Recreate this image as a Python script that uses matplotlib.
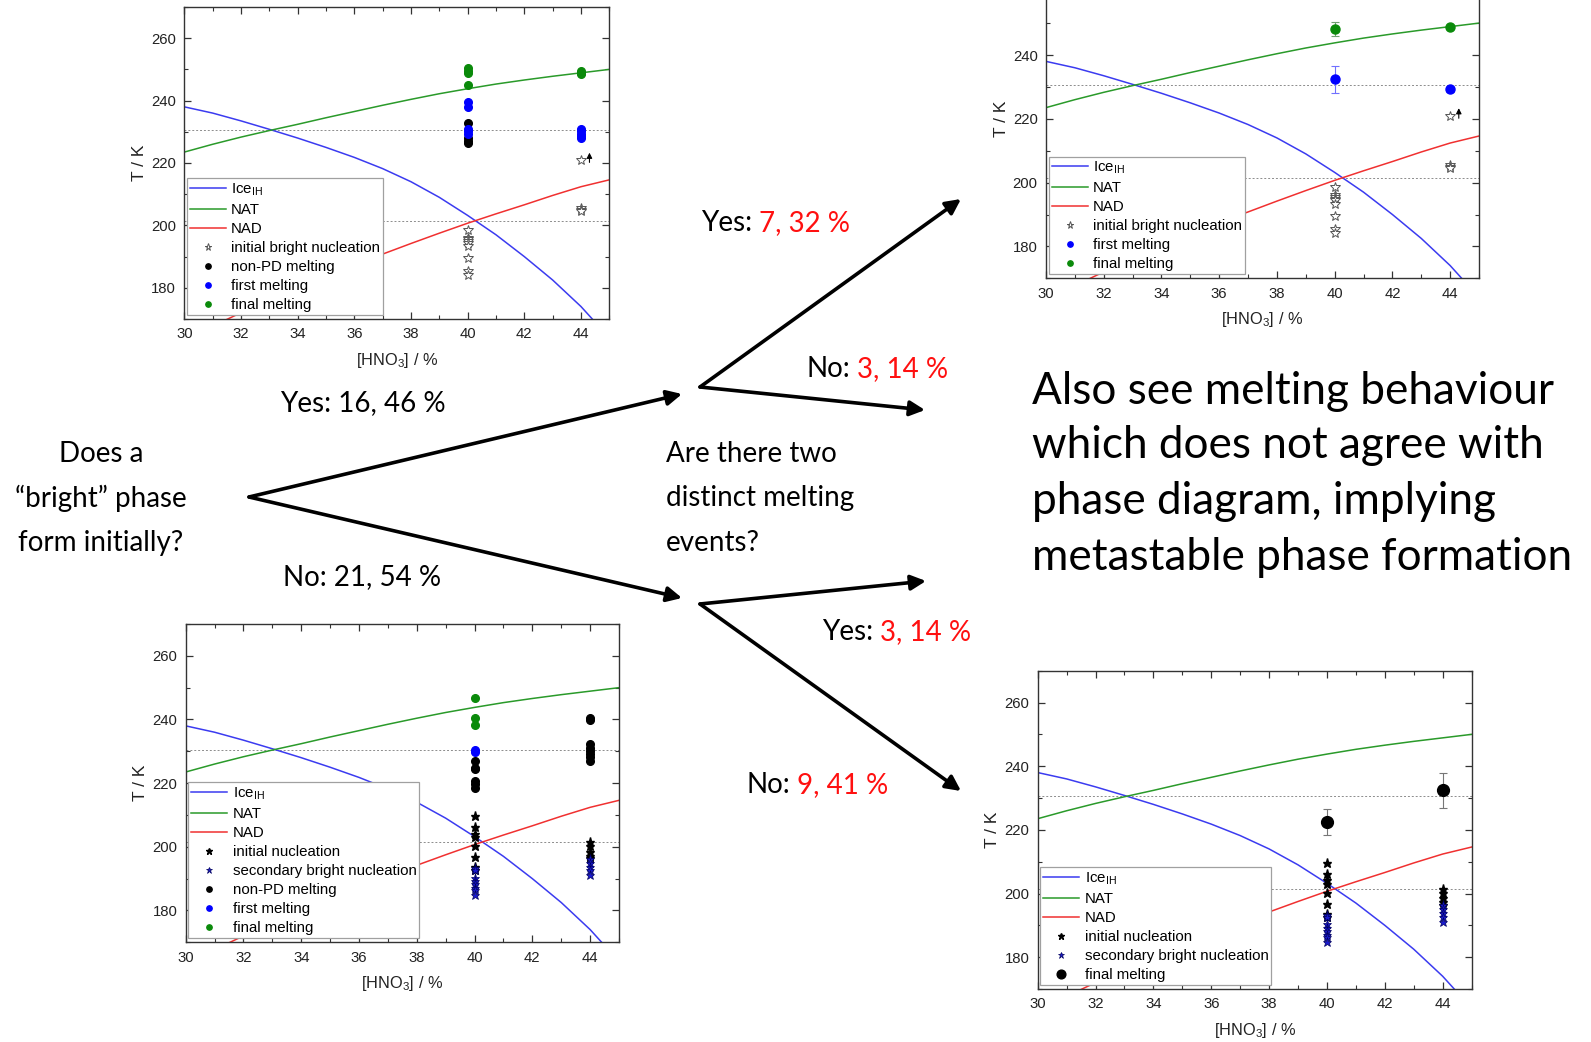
import matplotlib
matplotlib.use("Agg")
import matplotlib.pyplot as plt
from matplotlib.lines import Line2D
from matplotlib.patches import FancyArrowPatch
from matplotlib.ticker import MultipleLocator, FuncFormatter

plt.rcParams['font.family'] = ['Liberation Sans', 'DejaVu Sans']
plt.rcParams['mathtext.fontset'] = 'custom'
plt.rcParams['mathtext.rm'] = 'Liberation Sans'
plt.rcParams['mathtext.it'] = 'Liberation Sans:italic'

# phase boundaries, T in K against HNO3 wt %
ice_x = [30, 31, 32, 33, 34, 35, 36, 37, 38, 39, 40, 41, 42, 43, 44, 44.4, 44.7]
ice_T = [238.0, 236.0, 233.5, 230.8, 228.0, 225.0, 221.8, 218.2, 214.0, 209.0,
         203.2, 197.0, 190.0, 182.5, 174.0, 170.0, 166.5]
nat_x = [30, 31, 32, 33, 34, 35, 36, 37, 38, 39, 40, 41, 42, 43, 44, 45]
nat_T = [223.5, 226.0, 228.3, 230.4, 232.4, 234.5, 236.5, 238.5, 240.4, 242.2,
         243.8, 245.3, 246.6, 247.8, 248.9, 250.0]
nad_x = [31.3, 32, 33, 34, 35, 36, 37, 38, 39, 40, 41, 42, 43, 44, 45]
nad_T = [169.0, 172.0, 176.3, 180.3, 184.0, 187.5, 190.8, 194.2, 197.5, 200.7,
         203.7, 206.6, 209.6, 212.4, 214.6]
eutectic_T = [230.5, 201.5]

# bright phase forms first (top panels)
bright_nuc_x = [40] * 9 + [44] * 4
bright_nuc_T = [198.5, 196.0, 195.5, 195.0, 194.5, 193.3, 189.5, 185.5, 184.2,
                221.0, 205.5, 205.0, 204.5]
limit_arrow_x = 44.3
limit_arrow_T = (219.3, 224.2)

tl_nonpd_x = [40, 40, 40, 40]
tl_nonpd_T = [232.9, 227.9, 227.2, 226.5]
tl_first_x = [40] * 5 + [44] * 5
tl_first_T = [239.5, 238.0, 231.0, 230.2, 229.4, 231.0, 230.2, 229.4, 228.6, 228.0]
tl_final_x = [40] * 4 + [44] * 3
tl_final_T = [250.3, 249.6, 248.8, 245.0, 249.5, 249.0, 248.5]

tr_first_x = [40, 44]
tr_first_T = [232.4, 229.2]
tr_first_err = [4.3, 0.9]
tr_final_x = [40, 44]
tr_final_T = [248.1, 248.9]
tr_final_err = [2.1, 0.5]

# no bright phase first (bottom panels)
init_nuc_x = [40] * 8 + [44] * 5
init_nuc_T = [209.6, 206.1, 204.1, 203.0, 200.3, 196.8, 193.5, 192.6,
              201.5, 200.3, 198.5, 197.2, 196.5]
sec_nuc_x = [40] * 8 + [44] * 5
sec_nuc_T = [193.3, 192.6, 190.3, 189.2, 188.2, 187.1, 186.3, 184.9,
             196.3, 195.0, 193.8, 192.6, 191.0]

bl_nonpd_x = [40] * 6 + [44] * 8
bl_nonpd_T = [227.1, 224.9, 224.3, 220.8, 219.8, 218.6,
              240.5, 239.7, 232.2, 231.2, 230.2, 229.2, 228.2, 227.0]
bl_first_x = [40, 40]
bl_first_T = [230.4, 229.8]
bl_final_x = [40, 40, 40]
bl_final_T = [246.7, 240.5, 238.4]

br_final_x = [40, 44]
br_final_T = [222.5, 232.4]
br_final_err = [4.0, 5.4]

c_ice, c_nat, c_nad = '#3b3bf0', '#2a9a2a', '#f03030'
c_blue, c_green = '#0000ff', '#0a8a0a'

W, H = 1591, 1042
fig = plt.figure(figsize=(W / 100, H / 100), dpi=100)


def box(left, top, right, bottom):
    # pixel box -> figure fraction rect
    return [left / W, 1 - bottom / H, (right - left) / W, (bottom - top) / H]


def px(x, y):
    return (x / W, 1 - y / H)


def setup(ax):
    ax.plot(ice_x, ice_T, color=c_ice, lw=1.1)
    ax.plot(nat_x, nat_T, color=c_nat, lw=1.1)
    ax.plot(nad_x, nad_T, color=c_nad, lw=1.1)
    for t in eutectic_T:
        ax.axhline(t, color='#8c8c8c', lw=0.7, ls=(0, (2, 2)), zorder=1)
    ax.set_xlim(30, 45)
    ax.set_ylim(170, 270)
    ax.xaxis.set_major_locator(MultipleLocator(2))
    ax.xaxis.set_minor_locator(MultipleLocator(1))
    ax.yaxis.set_major_locator(MultipleLocator(20))
    ax.yaxis.set_minor_locator(MultipleLocator(10))
    ax.tick_params(which='both', direction='in', top=True, right=True,
                   labelsize=10.7, labelcolor='#222222', color='#333333', pad=6)
    ax.tick_params(which='major', length=5, width=0.9)
    ax.tick_params(which='minor', length=3, width=0.8)
    for s in ax.spines.values():
        s.set_linewidth(1.0)
        s.set_color('#333333')
    ax.set_xlabel('[HNO$_3$] / %', fontsize=11.8, color='#222222', labelpad=7)
    ax.set_ylabel('T / K', fontsize=12.5, color='#222222', labelpad=3)


def line_h(color, label):
    return Line2D([], [], color=color, lw=1.1, label=label)


def mark_h(label, **kw):
    return Line2D([], [], ls='none', label=label, **kw)


open_star = dict(marker='*', mfc='white', mec='#555555', mew=0.7, ms=7.5)
black_star = dict(marker='*', color='k', ms=6.5)
blue_star = dict(marker='*', mfc='#1a1acc', mec='#000060', mew=0.5, ms=6.5)
dot_k = dict(marker='o', color='k', ms=5.5)
dot_b = dict(marker='o', color=c_blue, ms=5.5)
dot_g = dict(marker='o', color=c_green, ms=5.5)

phase_handles = [line_h(c_ice, 'Ice$_{\\mathrm{IH}}$'), line_h(c_nat, 'NAT'),
                 line_h(c_nad, 'NAD')]


def legend(ax, handles):
    leg = ax.legend(handles=phase_handles + handles, loc='lower left',
                    bbox_to_anchor=(0.006, 0.012), fontsize=10.8,
                    fancybox=False, framealpha=1, edgecolor='#a0a0a0',
                    borderpad=0.2, borderaxespad=0, handlelength=2.4,
                    handletextpad=0.35, labelspacing=0.34, markerscale=0.7)
    leg.get_frame().set_linewidth(0.9)
    leg.set_zorder(10)


def limit_arrow(ax):
    ax.annotate('', xy=(limit_arrow_x, limit_arrow_T[1]),
                xytext=(limit_arrow_x, limit_arrow_T[0]),
                arrowprops=dict(arrowstyle='-|>', color='k', lw=0.8,
                                mutation_scale=8))


# top left
ax1 = fig.add_axes(box(184.3, 7, 609.3, 319))
setup(ax1)
ax1.plot(bright_nuc_x, bright_nuc_T, ls='none', **open_star)
ax1.plot(tl_nonpd_x, tl_nonpd_T, ls='none', **dot_k)
ax1.plot(tl_first_x, tl_first_T, ls='none', **dot_b)
ax1.plot(tl_final_x, tl_final_T, ls='none', **dot_g)
limit_arrow(ax1)
legend(ax1, [mark_h('initial bright nucleation', **open_star),
             mark_h('non-PD melting', **dot_k),
             mark_h('first melting', **dot_b),
             mark_h('final melting', **dot_g)])

# top right, runs off the top edge
ax2 = fig.add_axes(box(1046, 278.3 - 319, 1479, 278.3))
setup(ax2)
ax2.yaxis.set_major_formatter(FuncFormatter(lambda v, p: '' if v > 250 else f'{v:.0f}'))
ax2.plot(bright_nuc_x, bright_nuc_T, ls='none', **open_star)
ax2.errorbar(tr_first_x, tr_first_T, yerr=tr_first_err, fmt='o', color=c_blue,
             ms=6.5, ecolor='#7070ff', elinewidth=0.8, capsize=3, capthick=0.8)
ax2.errorbar(tr_final_x, tr_final_T, yerr=tr_final_err, fmt='o', color=c_green,
             ms=6.5, ecolor='#70a070', elinewidth=0.8, capsize=3, capthick=0.8)
limit_arrow(ax2)
legend(ax2, [mark_h('initial bright nucleation', **open_star),
             mark_h('first melting', **dot_b),
             mark_h('final melting', **dot_g)])

# bottom left
ax3 = fig.add_axes(box(185.7, 624, 619, 942.3))
setup(ax3)
ax3.plot(bl_nonpd_x, bl_nonpd_T, ls='none', **dot_k)
ax3.plot(bl_first_x, bl_first_T, ls='none', **dot_b)
ax3.plot(bl_final_x, bl_final_T, ls='none', **dot_g)
ax3.plot(init_nuc_x, init_nuc_T, ls='none', **black_star)
ax3.plot(sec_nuc_x, sec_nuc_T, ls='none', **blue_star)
legend(ax3, [mark_h('initial nucleation', **black_star),
             mark_h('secondary bright nucleation', **blue_star),
             mark_h('non-PD melting', **dot_k),
             mark_h('first melting', **dot_b),
             mark_h('final melting', **dot_g)])

# bottom right
ax4 = fig.add_axes(box(1037.7, 670.7, 1471.6, 989))
setup(ax4)
ax4.plot(init_nuc_x, init_nuc_T, ls='none', **black_star)
ax4.plot(sec_nuc_x, sec_nuc_T, ls='none', **blue_star)
ax4.errorbar(br_final_x, br_final_T, yerr=br_final_err, fmt='o', color='k',
             ms=8.5, ecolor='#777777', elinewidth=0.8, capsize=3, capthick=0.8)
legend(ax4, [mark_h('initial nucleation', **black_star),
             mark_h('secondary bright nucleation', **blue_star),
             mark_h('final melting', marker='o', color='k', ms=9)])

# decision tree
arrows = [((249, 497), (682, 394)), ((249, 497), (682, 598)),
          ((700, 387), (961, 199)), ((700, 387), (925, 410)),
          ((700, 604), (926, 581)), ((700, 604), (961, 791))]
for a, b in arrows:
    fig.add_artist(FancyArrowPatch(px(*a), px(*b), transform=fig.transFigure,
                                   arrowstyle='-|>,head_length=0.6,head_width=0.3',
                                   mutation_scale=15, lw=2.6, color='k',
                                   shrinkA=0, shrinkB=0))

tf = dict(family=['Lato', 'DejaVu Sans'], fontsize=20, va='center')
for y, s in zip([454, 498, 543], ['Does a', '\u201cbright\u201d phase', 'form initially?']):
    fig.text(*px(101, y), s, ha='center', **tf)
for y, s in zip([454, 498, 543], ['Are there two', 'distinct melting', 'events?']):
    fig.text(*px(666, y), s, ha='left', **tf)
fig.text(*px(363, 403), 'Yes: 16, 46 %', ha='center', **tf)
fig.text(*px(362, 577), 'No: 21, 54 %', ha='center', **tf)

branch_labels = [('Yes:', '7, 32 %', 752, 223), ('No:', '3, 14 %', 850, 369),
                 ('Yes:', '3, 14 %', 873, 632), ('No:', '9, 41 %', 790, 785)]
for word, share, x, y in branch_labels:
    fig.text(*px(x, y), word, ha='right', **tf)
    fig.text(*px(x + 7, y), share, ha='left', color='#ff1010', **tf)

note = ['Also see melting behaviour', 'which does not agree with',
        'phase diagram, implying', 'metastable phase formation']
for y, s in zip([391, 446, 502, 558], note):
    fig.text(*px(1032, y), s, ha='left', family=['Lato', 'DejaVu Sans'],
             fontsize=31.8, va='center')

fig.savefig('out.png', dpi=100, facecolor='white')
